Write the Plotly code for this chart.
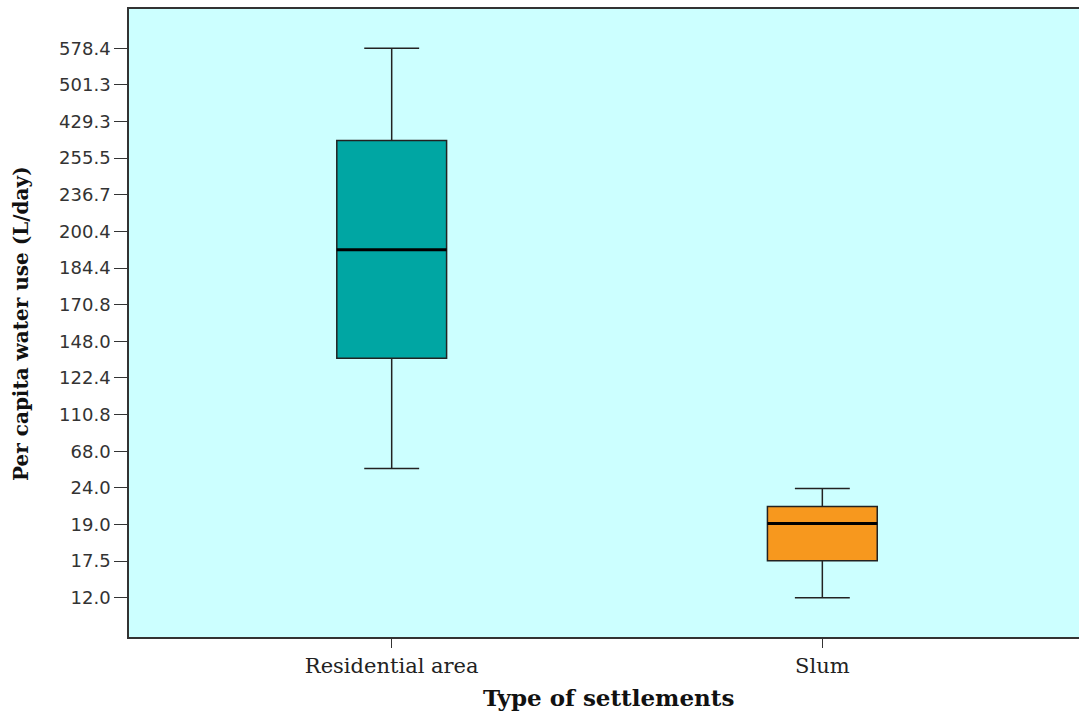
import plotly.graph_objects as go

# Ordinal y-axis: tick labels shown at evenly spaced positions (index 0 = bottom)
tick_labels = ["12.0", "17.5", "19.0", "24.0", "68.0", "110.8", "122.4", "148.0",
               "170.8", "184.4", "200.4", "236.7", "255.5", "429.3", "501.3", "578.4"]

categories = ["Residential area", "Slum"]
# box statistics expressed in axis-position units
lower_fence = [3.53, 0.0]
q1 = [6.54, 1.01]
median = [9.5, 2.03]
q3 = [12.48, 2.49]
upper_fence = [15.0, 2.98]
colors = ["#00A6A3", "#F7981E"]

box_w = 0.255
fig = go.Figure()
for i, cat in enumerate(categories):
    fig.add_trace(go.Box(
        x=[i], q1=[q1[i]], median=[median[i]], q3=[q3[i]],
        lowerfence=[lower_fence[i]], upperfence=[upper_fence[i]],
        width=box_w, whiskerwidth=0.5,
        fillcolor=colors[i], line=dict(color="#222222", width=1.5),
        name=cat, showlegend=False, hoverinfo="skip",
    ))
    fig.add_trace(go.Scatter(
        x=[i - box_w / 2, i + box_w / 2], y=[median[i], median[i]],
        mode="lines", line=dict(color="#000000", width=3),
        showlegend=False, hoverinfo="skip",
    ))

fig.update_layout(
    width=1079, height=713,
    margin=dict(l=129, r=0, t=9, b=76),
    paper_bgcolor="white", plot_bgcolor="#CCFFFF",
    font=dict(family="DejaVu Sans", color="#222222"),
    xaxis=dict(
        range=[-0.61, 1.596], tickvals=list(range(len(categories))), ticktext=categories,
        tickfont=dict(family="DejaVu Serif", size=21, color="#222222"),
        ticks="outside", ticklen=9, tickcolor="#333333",
        showline=True, linecolor="#333333", linewidth=1.5, mirror=True,
        showgrid=False, zeroline=False,
    ),
    yaxis=dict(
        range=[-1.07, 16.07], tickvals=list(range(len(tick_labels))), ticktext=tick_labels,
        tickfont=dict(family="DejaVu Sans", size=18, color="#333333"),
        ticks="outside", ticklen=13, tickcolor="#333333",
        showline=True, linecolor="#333333", linewidth=1.5, mirror=False,
        showgrid=False, zeroline=False,
    ),
    annotations=[
        dict(text="<b>Type of settlements</b>", xref="paper", yref="paper",
             x=0.505, y=-0.097, xanchor="center", yanchor="middle", showarrow=False,
             font=dict(family="DejaVu Serif", size=23, color="#111111")),
        dict(text="<b>Per capita water use (L/day)</b>", xref="paper", yref="paper",
             x=-0.1137, y=0.5, xanchor="center", yanchor="middle", showarrow=False,
             textangle=-90,
             font=dict(family="DejaVu Serif", size=20, color="#111111")),
    ],
)
fig.write_html("out.html")
